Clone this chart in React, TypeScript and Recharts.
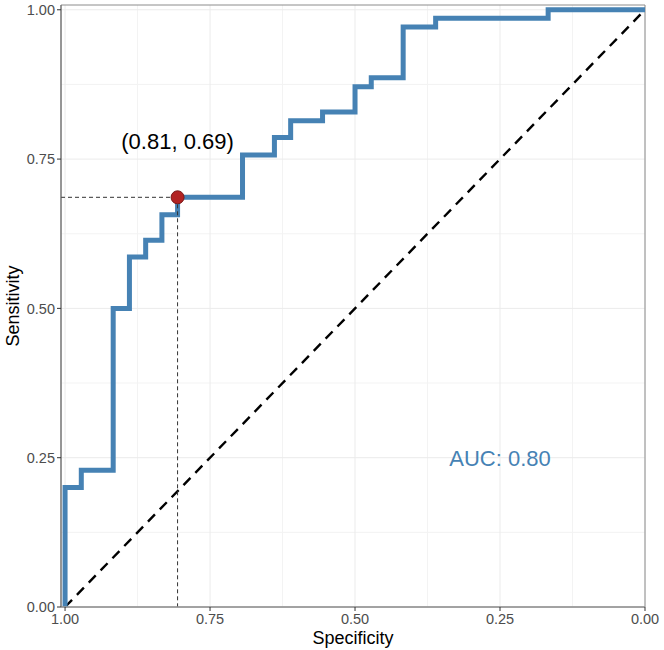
import {
  ComposedChart,
  Line,
  XAxis,
  YAxis,
  CartesianGrid,
  ReferenceLine,
  ReferenceDot,
  ReferenceArea,
} from "recharts";

// ROC curve coordinates (specificity, sensitivity), one entry per corner
const specificity = [
  1, 1, 0.972, 0.972, 0.917, 0.917, 0.889, 0.889, 0.861, 0.861, 0.833, 0.833,
  0.806, 0.806, 0.694, 0.694, 0.639, 0.639, 0.611, 0.611, 0.556, 0.556, 0.5,
  0.5, 0.472, 0.472, 0.417, 0.417, 0.361, 0.361, 0.167, 0.167, 0,
];
const sensitivity = [
  0, 0.2, 0.2, 0.229, 0.229, 0.5, 0.5, 0.586, 0.586, 0.614, 0.614, 0.657,
  0.657, 0.686, 0.686, 0.757, 0.757, 0.786, 0.786, 0.814, 0.814, 0.829, 0.829,
  0.871, 0.871, 0.886, 0.886, 0.971, 0.971, 0.986, 0.986, 1, 1,
];

const bestSpec = 0.806;
const bestSens = 0.686;
const bestLabel = "(0.81, 0.69)";
const aucLabel = "AUC: 0.80";

const majorTicks = [0, 0.25, 0.5, 0.75, 1];
const minorTicks = [0.125, 0.375, 0.625, 0.875];

const X_MAX = 1.007;
const Y_MAX = 1.008;

const rocData = specificity.map((s, i) => ({ spec: s, sens: sensitivity[i] }));

const font = "'Liberation Sans', Arial, Helvetica, sans-serif";

export default function App() {
  return (
    <div style={{ position: "absolute", left: 0, top: 0, fontFamily: font }}>
      <ComposedChart
        width={664}
        height={650}
        data={rocData}
        margin={{ top: 5, right: 19, left: 0, bottom: 0 }}
      >
        <CartesianGrid
          stroke="#F3F3F3"
          strokeWidth={1}
          verticalValues={minorTicks}
          horizontalValues={minorTicks}
        />
        <CartesianGrid
          stroke="#EBEBEB"
          strokeWidth={1}
          verticalValues={majorTicks}
          horizontalValues={majorTicks}
        />
        <XAxis
          type="number"
          dataKey="spec"
          reversed
          domain={[0, X_MAX]}
          ticks={majorTicks}
          tickFormatter={(v: number) => v.toFixed(2)}
          height={43}
          tickSize={4}
          tick={{ fill: "#4D4D4D", fontSize: 14.5, fontFamily: font, dy: 1 }}
          tickLine={{ stroke: "#333333" }}
          axisLine={{ stroke: "#999999", strokeWidth: 1.5 }}
          label={{
            value: "Specificity",
            position: "insideBottom",
            offset: 6,
            fill: "#000000",
            fontSize: 18,
            fontFamily: font,
          }}
        />
        <YAxis
          type="number"
          dataKey="sens"
          domain={[0, Y_MAX]}
          ticks={majorTicks}
          tickFormatter={(v: number) => v.toFixed(2)}
          width={61}
          tickSize={4}
          tick={{ fill: "#4D4D4D", fontSize: 14.5, fontFamily: font }}
          tickLine={{ stroke: "#333333" }}
          axisLine={{ stroke: "#666666" }}
          label={{
            value: "Sensitivity",
            angle: -90,
            position: "insideLeft",
            offset: 13,
            fill: "#000000",
            fontSize: 18,
            fontFamily: font,
            style: { textAnchor: "middle" },
          }}
        />
        {/* panel border */}
        <ReferenceArea
          x1={X_MAX}
          x2={0}
          y1={0}
          y2={Y_MAX}
          fill="none"
          stroke="#8C8C8C"
          strokeWidth={1}
        />
        {/* chance diagonal */}
        <ReferenceLine
          segment={[
            { x: 1, y: 0 },
            { x: 0, y: 1 },
          ]}
          stroke="#000000"
          strokeWidth={2.4}
          strokeDasharray="10 7"
        />
        <Line
          type="linear"
          dataKey="sens"
          stroke="#4682B4"
          strokeWidth={5}
          dot={false}
          activeDot={false}
          isAnimationActive={false}
        />
        {/* guides to the best threshold */}
        <ReferenceLine
          segment={[
            { x: X_MAX, y: bestSens },
            { x: bestSpec, y: bestSens },
          ]}
          stroke="#333333"
          strokeWidth={1}
          strokeDasharray="4 3"
        />
        <ReferenceLine
          segment={[
            { x: bestSpec, y: bestSens },
            { x: bestSpec, y: 0 },
          ]}
          stroke="#333333"
          strokeWidth={1}
          strokeDasharray="4 3"
        />
        <ReferenceDot
          x={bestSpec}
          y={bestSens}
          r={6.5}
          fill="#B22222"
          stroke="#7A1A1A"
          strokeWidth={1}
        />
        <ReferenceDot
          x={bestSpec}
          y={0.78}
          r={0}
          fill="none"
          stroke="none"
          label={{
            value: bestLabel,
            position: "center",
            fill: "#000000",
            fontSize: 22,
            fontFamily: font,
          }}
        />
        <ReferenceDot
          x={0.25}
          y={0.25}
          r={0}
          fill="none"
          stroke="none"
          label={{
            value: aucLabel,
            position: "center",
            fill: "#4682B4",
            fontSize: 22,
            fontFamily: font,
          }}
        />
      </ComposedChart>
    </div>
  );
}
